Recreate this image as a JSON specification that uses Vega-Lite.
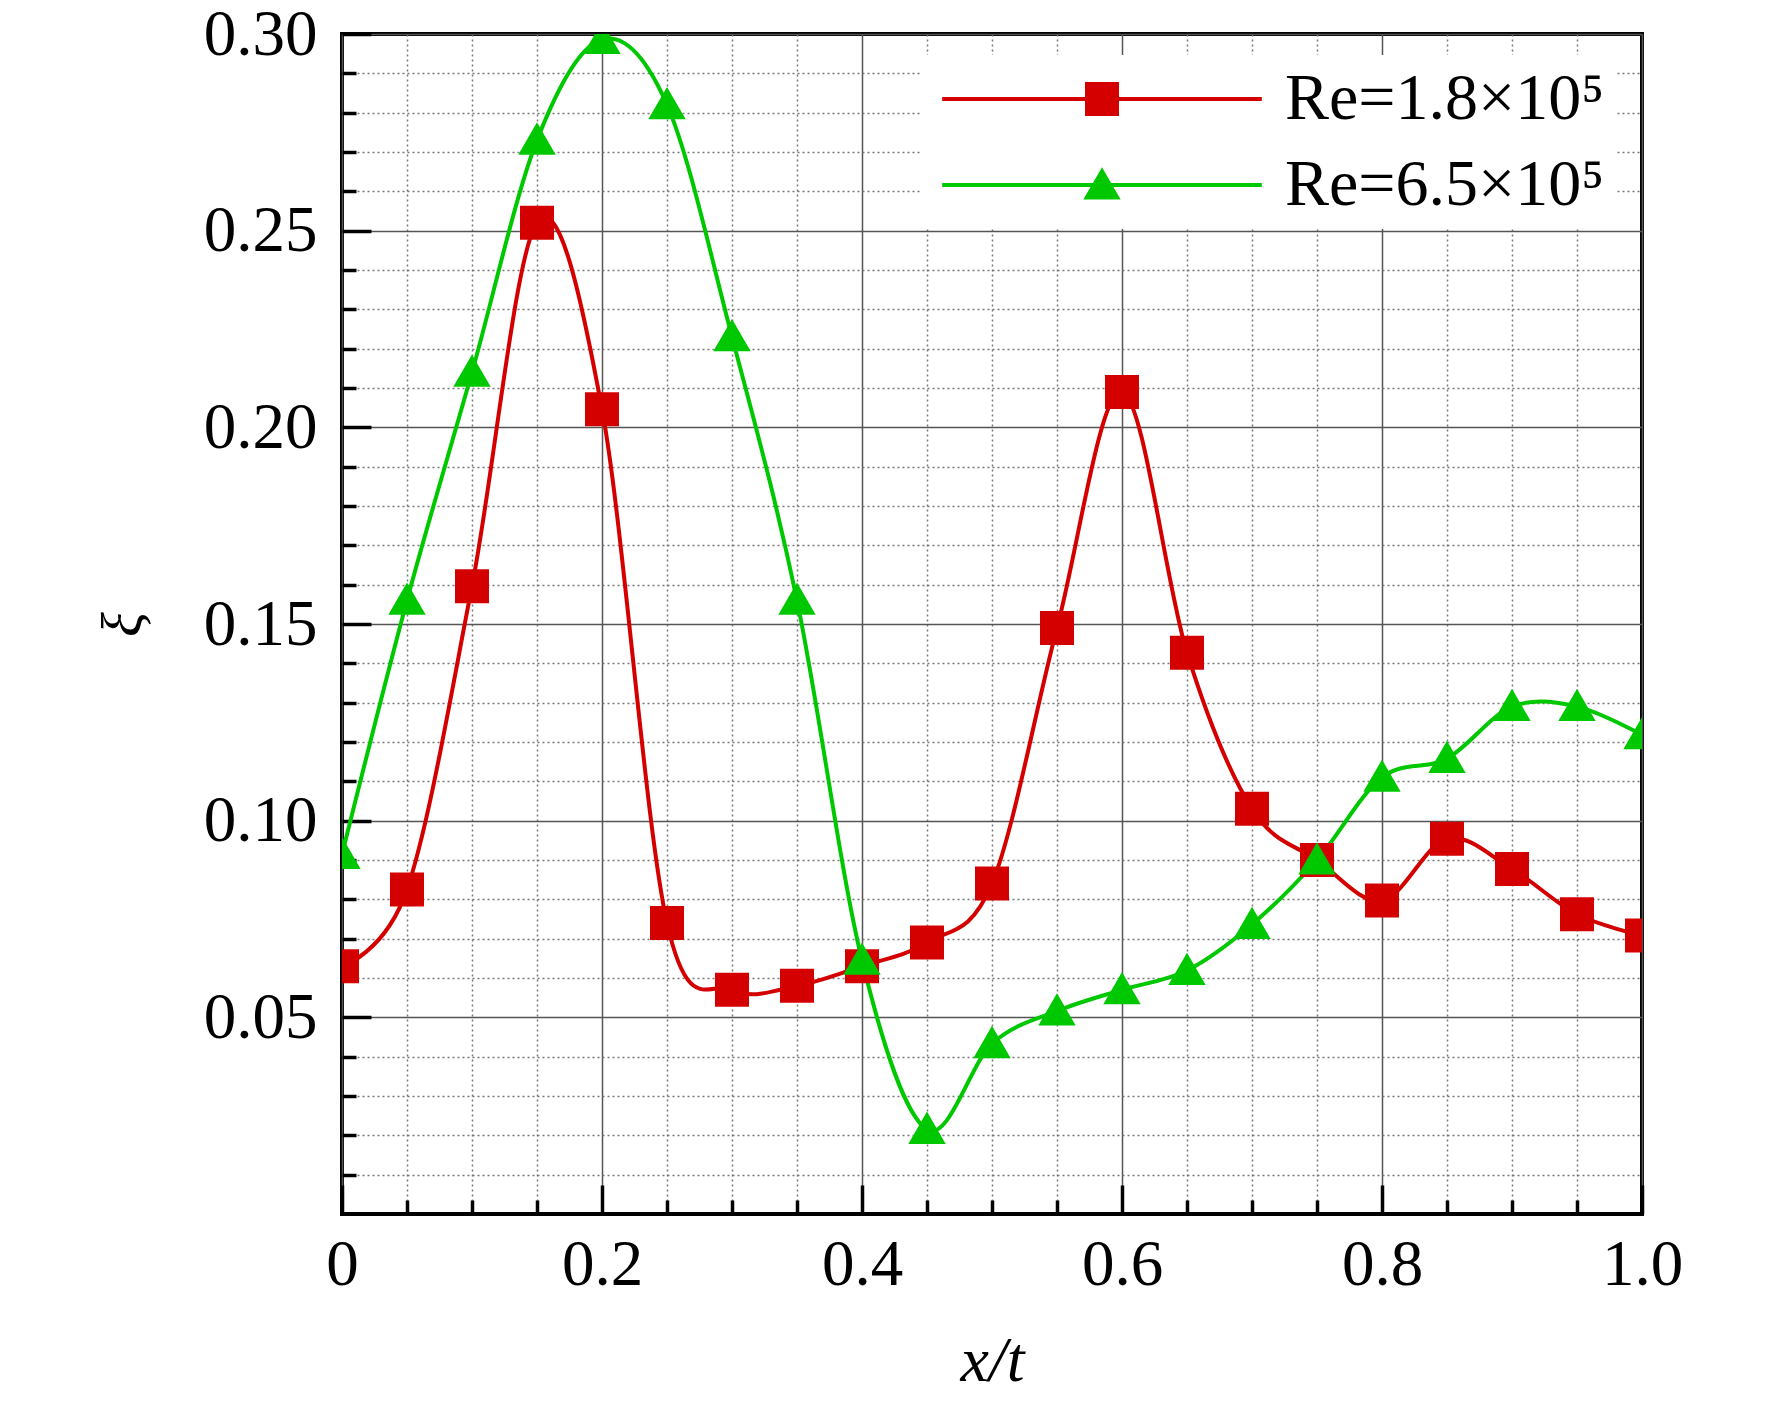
{
  "$schema": "https://vega.github.io/schema/vega-lite/v6.json",
  "width": 1300,
  "height": 1180,
  "autosize": {"type": "none"},
  "padding": {"left": 342, "top": 34, "right": 130, "bottom": 187},
  "background": "white",
  "config": {
    "font": "Liberation Serif",
    "view": {"stroke": "black", "strokeWidth": 4},
    "axis": {"domain": false, "tickColor": "black", "labelColor": "black", "titleColor": "black", "labelFlush": false}
  },
  "data": {
    "values": [
      {"x": 0.00, "xi": 0.0630, "series": "Re=1.8×10⁵"},
      {"x": 0.05, "xi": 0.0825, "series": "Re=1.8×10⁵"},
      {"x": 0.10, "xi": 0.1596, "series": "Re=1.8×10⁵"},
      {"x": 0.15, "xi": 0.2520, "series": "Re=1.8×10⁵"},
      {"x": 0.20, "xi": 0.2046, "series": "Re=1.8×10⁵"},
      {"x": 0.25, "xi": 0.0740, "series": "Re=1.8×10⁵"},
      {"x": 0.30, "xi": 0.0570, "series": "Re=1.8×10⁵"},
      {"x": 0.35, "xi": 0.0580, "series": "Re=1.8×10⁵"},
      {"x": 0.40, "xi": 0.0630, "series": "Re=1.8×10⁵"},
      {"x": 0.45, "xi": 0.0690, "series": "Re=1.8×10⁵"},
      {"x": 0.50, "xi": 0.0840, "series": "Re=1.8×10⁵"},
      {"x": 0.55, "xi": 0.1490, "series": "Re=1.8×10⁵"},
      {"x": 0.60, "xi": 0.2090, "series": "Re=1.8×10⁵"},
      {"x": 0.65, "xi": 0.1427, "series": "Re=1.8×10⁵"},
      {"x": 0.70, "xi": 0.1030, "series": "Re=1.8×10⁵"},
      {"x": 0.75, "xi": 0.0900, "series": "Re=1.8×10⁵"},
      {"x": 0.80, "xi": 0.0797, "series": "Re=1.8×10⁵"},
      {"x": 0.85, "xi": 0.0954, "series": "Re=1.8×10⁵"},
      {"x": 0.90, "xi": 0.0877, "series": "Re=1.8×10⁵"},
      {"x": 0.95, "xi": 0.0762, "series": "Re=1.8×10⁵"},
      {"x": 1.00, "xi": 0.0708, "series": "Re=1.8×10⁵"},
      {"x": 0.00, "xi": 0.0914, "series": "Re=6.5×10⁵"},
      {"x": 0.05, "xi": 0.1560, "series": "Re=6.5×10⁵"},
      {"x": 0.10, "xi": 0.2140, "series": "Re=6.5×10⁵"},
      {"x": 0.15, "xi": 0.2730, "series": "Re=6.5×10⁵"},
      {"x": 0.20, "xi": 0.2986, "series": "Re=6.5×10⁵"},
      {"x": 0.25, "xi": 0.2820, "series": "Re=6.5×10⁵"},
      {"x": 0.30, "xi": 0.2230, "series": "Re=6.5×10⁵"},
      {"x": 0.35, "xi": 0.1560, "series": "Re=6.5×10⁵"},
      {"x": 0.40, "xi": 0.0645, "series": "Re=6.5×10⁵"},
      {"x": 0.45, "xi": 0.0215, "series": "Re=6.5×10⁵"},
      {"x": 0.50, "xi": 0.0433, "series": "Re=6.5×10⁵"},
      {"x": 0.55, "xi": 0.0516, "series": "Re=6.5×10⁵"},
      {"x": 0.60, "xi": 0.0570, "series": "Re=6.5×10⁵"},
      {"x": 0.65, "xi": 0.0619, "series": "Re=6.5×10⁵"},
      {"x": 0.70, "xi": 0.0736, "series": "Re=6.5×10⁵"},
      {"x": 0.75, "xi": 0.0900, "series": "Re=6.5×10⁵"},
      {"x": 0.80, "xi": 0.1110, "series": "Re=6.5×10⁵"},
      {"x": 0.85, "xi": 0.1158, "series": "Re=6.5×10⁵"},
      {"x": 0.90, "xi": 0.1290, "series": "Re=6.5×10⁵"},
      {"x": 0.95, "xi": 0.1290, "series": "Re=6.5×10⁵"},
      {"x": 1.00, "xi": 0.1218, "series": "Re=6.5×10⁵"}
    ]
  },
  "layer": [
    {
      "transform": [{"filter": "datum.series === 'Re=1.8×10⁵'"}],
      "mark": {"type": "line", "color": "#d40000", "strokeWidth": 4, "interpolate": "cardinal", "clip": true},
      "encoding": {
        "x": {
          "field": "x", "type": "quantitative",
          "scale": {"domain": [0, 1], "nice": false},
          "axis": {
            "orient": "bottom",
            "values": [0, 0.2, 0.4, 0.6, 0.8, 1.0],
            "labelExpr": "datum.value === 0 ? '0' : format(datum.value, '.1f')",
            "grid": true, "gridColor": "#555555", "gridWidth": 1.5,
            "tickSize": -29, "tickWidth": 3.5,
            "labelFontSize": 65, "labelPadding": 48,
            "title": "x/t", "titleFontSize": 64, "titleFontStyle": "italic", "titleFontWeight": "normal", "titlePadding": 32
          }
        },
        "y": {
          "field": "xi", "type": "quantitative",
          "scale": {"domain": [0, 0.3], "nice": false},
          "axis": {
            "orient": "left",
            "values": [0.05, 0.10, 0.15, 0.20, 0.25, 0.30],
            "format": ".2f",
            "grid": true, "gridColor": "#555555", "gridWidth": 1.5,
            "tickSize": -29, "tickWidth": 3.5,
            "labelFontSize": 65, "labelPadding": 54,
            "title": "ξ", "titleFontSize": 58, "titleFontStyle": "italic", "titleFontWeight": "normal", "titlePadding": 51
          }
        }
      }
    },
    {
      "transform": [{"filter": "datum.series === 'Re=6.5×10⁵'"}],
      "mark": {"type": "line", "color": "#00c800", "strokeWidth": 4, "interpolate": "cardinal", "clip": true},
      "encoding": {
        "x": {"field": "x", "type": "quantitative", "axis": null},
        "y": {"field": "xi", "type": "quantitative", "axis": null}
      }
    },
    {
      "transform": [{"filter": "datum.series === 'Re=1.8×10⁵'"}],
      "mark": {"type": "point", "shape": "M-1,-1H1V1H-1Z", "filled": true, "opacity": 1, "color": "#d40000", "size": 1156, "clip": true},
      "encoding": {
        "x": {
          "field": "x", "type": "quantitative",
          "axis": {
            "orient": "bottom",
            "values": [0.05, 0.1, 0.15, 0.25, 0.3, 0.35, 0.45, 0.5, 0.55, 0.65, 0.7, 0.75, 0.85, 0.9, 0.95],
            "labels": false, "title": null,
            "grid": true, "gridColor": "#777777", "gridWidth": 1.5, "gridDash": [2, 3],
            "tickSize": -14, "tickWidth": 3.5
          }
        },
        "y": {
          "field": "xi", "type": "quantitative",
          "axis": {
            "orient": "left",
            "values": [0.01, 0.02, 0.03, 0.04, 0.06, 0.07, 0.08, 0.09, 0.11, 0.12, 0.13, 0.14, 0.16, 0.17, 0.18, 0.19, 0.21, 0.22, 0.23, 0.24, 0.26, 0.27, 0.28, 0.29],
            "labels": false, "title": null,
            "grid": true, "gridColor": "#777777", "gridWidth": 1.5, "gridDash": [2, 3],
            "tickSize": -14, "tickWidth": 3.5
          }
        }
      }
    },
    {
      "transform": [{"filter": "datum.series === 'Re=6.5×10⁵'"}],
      "mark": {"type": "point", "shape": "M0,-1.05L1.1,0.85H-1.1Z", "filled": true, "opacity": 1, "color": "#00c800", "size": 1156, "clip": true},
      "encoding": {
        "x": {"field": "x", "type": "quantitative", "axis": null},
        "y": {"field": "xi", "type": "quantitative", "axis": null}
      }
    },
    {
      "mark": {"type": "point", "filled": true, "opacity": 0, "size": 1156, "clip": true},
      "encoding": {
        "x": {"field": "x", "type": "quantitative", "axis": null},
        "y": {"field": "xi", "type": "quantitative", "axis": null},
        "color": {
          "field": "series", "type": "nominal",
          "scale": {"domain": ["Re=1.8×10⁵", "Re=6.5×10⁵"], "range": ["#d40000", "#00c800"]},
          "legend": {
            "orient": "none", "legendX": 580, "legendY": 21,
            "title": null, "fillColor": "white", "padding": 11,
            "labelFont": "Liberation Serif", "labelFontSize": 66, "labelColor": "black", "labelLimit": 0,
            "labelOffset": 150, "symbolOffset": 136, "rowPadding": 20, "symbolSize": 1156,
            "encode": {"symbols": {"update": {"opacity": {"value": 1}, "size": {"value": 1156}, "strokeWidth": {"value": 0}}}}
          }
        },
        "shape": {
          "field": "series", "type": "nominal",
          "scale": {
            "domain": ["Re=1.8×10⁵", "Re=6.5×10⁵"],
            "range": ["M-9.4,-0.12H9.4V0.12H-9.4Z M-1,-1H1V1H-1Z", "M-9.4,-0.12H9.4V0.12H-9.4Z M0,-1.05L1.1,0.85H-1.1Z"]
          }
        }
      }
    }
  ],
  "resolve": {"axis": {"x": "independent", "y": "independent"}}
}
